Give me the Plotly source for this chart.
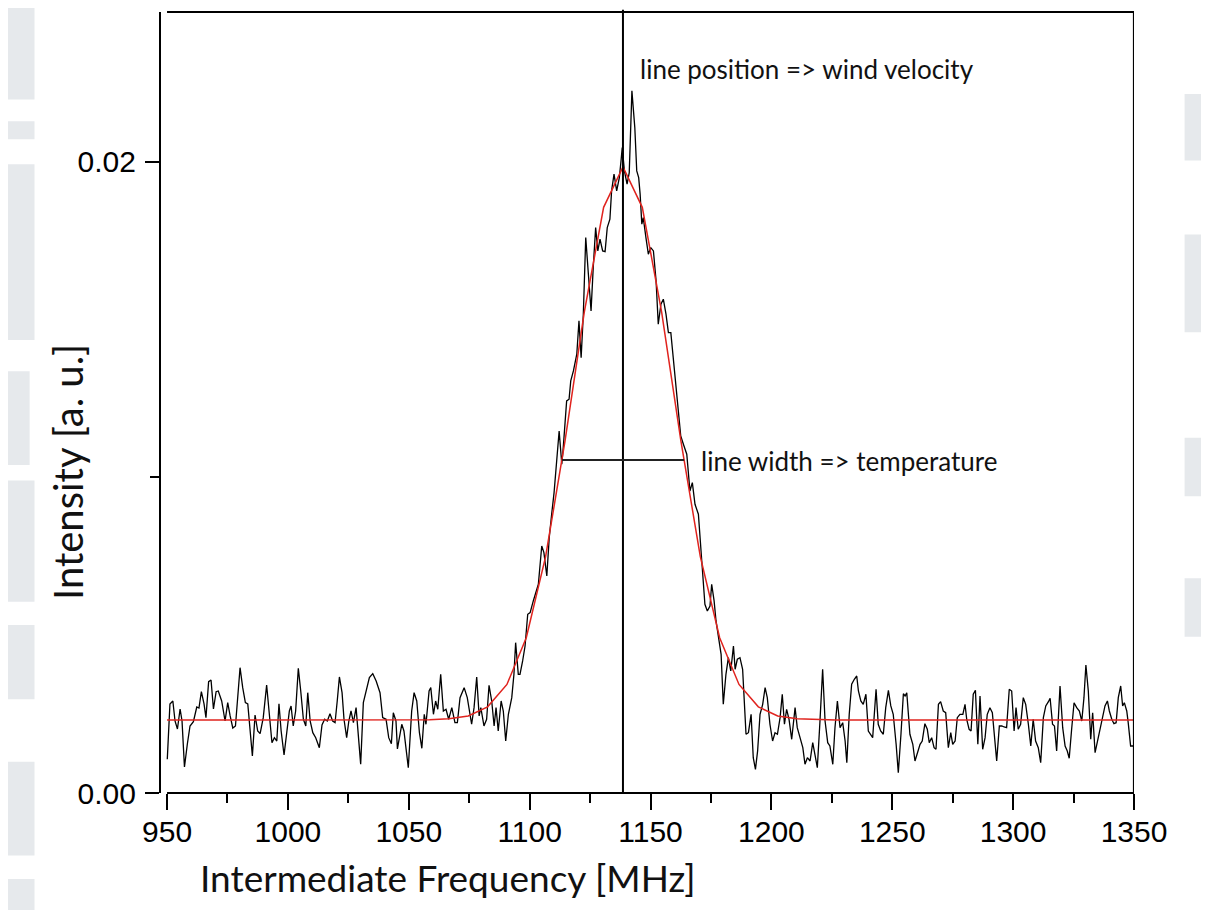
import plotly.graph_objects as go

# measured spectrum (MHz, a.u.)
freq = [
    950.1, 951.2, 952.4, 953.3, 954.3, 955.4, 956.2, 957.2, 958.4, 959.5,
    960.9, 962.3, 963.2, 964.2, 965.3, 966.1, 967.2, 968.2, 969.2, 970.3,
    971.2, 972.6, 974.0, 975.1, 976.1, 977.2, 978.3, 979.1, 980.2, 981.3,
    982.4, 983.4, 984.3, 985.3, 986.4, 987.5, 988.5, 989.8, 991.2, 992.3,
    993.4, 994.4, 995.4, 996.3, 997.2, 998.4, 999.5, 1000.6, 1001.3, 1002.2,
    1003.2, 1004.3, 1005.3, 1006.4, 1007.4, 1008.2, 1009.2, 1010.3, 1011.5, 1013.0,
    1014.1, 1015.2, 1016.3, 1017.4, 1018.5, 1019.5, 1020.4, 1021.3, 1022.4, 1023.2,
    1024.3, 1025.2, 1026.1, 1027.1, 1028.2, 1029.1, 1030.1, 1031.2, 1032.6, 1033.7,
    1035.1, 1036.5, 1038.1, 1039.2, 1040.6, 1041.7, 1042.8, 1043.6, 1044.7, 1045.3,
    1047.1, 1048.0, 1049.8, 1051.2, 1052.2, 1053.3, 1054.4, 1055.4, 1056.4, 1057.1,
    1058.4, 1059.1, 1060.2, 1061.1, 1062.0, 1063.2, 1064.3, 1065.4, 1066.5, 1067.8,
    1069.1, 1070.1, 1071.2, 1072.9, 1074.2, 1076.0, 1077.0, 1078.1, 1079.1, 1079.8,
    1081.1, 1082.2, 1083.2, 1084.3, 1085.3, 1086.1, 1087.0, 1088.2, 1089.1, 1090.1,
    1091.2, 1092.6, 1093.5, 1094.2, 1095.3, 1096.0, 1097.1, 1098.1, 1099.2, 1100.2,
    1101.5, 1103.6, 1105.0, 1105.9, 1107.1, 1108.1, 1109.1, 1110.1, 1112.2, 1113.3,
    1113.9, 1115.3, 1116.3, 1117.0, 1118.1, 1119.5, 1120.4, 1121.3, 1122.2, 1123.2,
    1124.3, 1125.4, 1126.3, 1127.3, 1128.2, 1129.1, 1130.2, 1131.2, 1132.1, 1133.2,
    1133.9, 1134.9, 1136.0, 1137.1, 1137.8, 1138.3, 1139.2, 1140.3, 1141.2, 1142.3,
    1143.5, 1144.3, 1145.1, 1145.7, 1146.4, 1147.0, 1148.1, 1149.1, 1150.1, 1151.2,
    1152.3, 1153.2, 1154.3, 1155.3, 1156.4, 1157.4, 1158.4, 1159.4, 1160.8, 1161.8,
    1162.5, 1163.6, 1165.0, 1166.3, 1167.3, 1168.4, 1169.8, 1171.2, 1171.8, 1172.5,
    1173.5, 1174.6, 1175.3, 1176.3, 1177.1, 1178.0, 1179.2, 1180.1, 1181.2, 1182.2,
    1183.2, 1184.3, 1185.0, 1185.9, 1187.0, 1188.1, 1188.8, 1189.5, 1190.5, 1191.6,
    1192.5, 1193.4, 1194.3, 1195.3, 1196.4, 1197.4, 1198.3, 1199.4, 1200.5, 1201.5,
    1202.5, 1203.6, 1204.5, 1205.4, 1206.3, 1207.3, 1208.4, 1209.1, 1209.8, 1210.7,
    1211.8, 1213.0, 1213.9, 1214.9, 1216.0, 1217.1, 1218.0, 1219.0, 1220.1, 1221.2,
    1222.2, 1223.3, 1224.2, 1225.4, 1226.3, 1227.3, 1228.4, 1229.5, 1230.5, 1231.2,
    1232.2, 1233.2, 1234.3, 1235.3, 1236.0, 1237.0, 1238.0, 1239.1, 1240.1, 1241.9,
    1243.3, 1244.2, 1245.2, 1246.3, 1247.3, 1248.4, 1249.4, 1250.4, 1251.6, 1252.5,
    1253.6, 1254.6, 1255.3, 1256.0, 1257.3, 1258.5, 1259.4, 1260.5, 1261.5, 1262.4,
    1263.5, 1264.5, 1265.3, 1266.3, 1267.3, 1268.1, 1269.1, 1270.0, 1271.1, 1272.1,
    1273.2, 1274.2, 1275.0, 1276.0, 1276.9, 1278.0, 1279.2, 1280.1, 1280.8, 1281.8,
    1282.6, 1283.5, 1284.4, 1285.4, 1286.3, 1287.4, 1288.4, 1289.3, 1290.4, 1291.4,
    1292.2, 1293.2, 1294.3, 1295.3, 1296.3, 1297.3, 1298.4, 1299.4, 1300.4, 1301.2,
    1302.1, 1303.1, 1304.2, 1305.2, 1306.3, 1307.3, 1308.3, 1309.3, 1310.4, 1311.4,
    1312.5, 1313.5, 1314.6, 1315.3, 1316.3, 1317.1, 1318.0, 1319.4, 1320.5, 1321.5,
    1322.4, 1323.2, 1324.2, 1325.2, 1326.3, 1327.4, 1328.4, 1329.3, 1330.1, 1331.1,
    1332.1, 1332.9, 1333.9, 1335.0, 1335.9, 1337.1, 1338.0, 1339.0, 1339.8, 1340.8,
    1341.7, 1342.6, 1343.5, 1344.5, 1345.3, 1346.0, 1347.0, 1347.6, 1348.6, 1349.7,
]

intensity = [
    0.001068, 0.002821, 0.002916, 0.002282, 0.002029, 0.002662, 0.002282, 0.000824, 0.001553, 0.002124,
    0.002260, 0.002726, 0.002694, 0.003211, 0.002821, 0.002387, 0.003528, 0.003582, 0.002662, 0.003211,
    0.003233, 0.002916, 0.002282, 0.002862, 0.002441, 0.002060, 0.002124, 0.002821, 0.003971, 0.003338,
    0.002862, 0.002821, 0.002070, 0.001173, 0.002472, 0.001965, 0.001880, 0.002387, 0.003423, 0.002387,
    0.001594, 0.001753, 0.001648, 0.002830, 0.001965, 0.001204, 0.001965, 0.002599, 0.002758, 0.002124,
    0.002599, 0.003952, 0.003233, 0.002336, 0.002124, 0.003179, 0.002282, 0.001911, 0.001753, 0.001436,
    0.002155, 0.002336, 0.002282, 0.002513, 0.002282, 0.002228, 0.002916, 0.003677, 0.003179, 0.002336,
    0.001753, 0.002282, 0.002599, 0.002228, 0.002704, 0.001861, 0.000910, 0.002862, 0.003338, 0.003655,
    0.003781, 0.003550, 0.003179, 0.002387, 0.002336, 0.001753, 0.001563, 0.002545, 0.002282, 0.001395,
    0.002178, 0.001965, 0.000802, 0.002599, 0.003179, 0.002916, 0.001911, 0.001417, 0.002494, 0.002178,
    0.003233, 0.003338, 0.002494, 0.002916, 0.002653, 0.003762, 0.002599, 0.002653, 0.002336, 0.002704,
    0.002228, 0.002228, 0.003021, 0.003338, 0.003021, 0.002178, 0.002704, 0.003677, 0.002441, 0.002704,
    0.002124, 0.002336, 0.003414, 0.002916, 0.002124, 0.002704, 0.001965, 0.002916, 0.002599, 0.001648,
    0.002494, 0.003021, 0.003762, 0.004764, 0.003762, 0.003762, 0.004184, 0.004659, 0.005664, 0.005715,
    0.006086, 0.006615, 0.007829, 0.007617, 0.006878, 0.008092, 0.008834, 0.009518, 0.011474, 0.010419,
    0.010945, 0.012425, 0.012479, 0.013059, 0.013376, 0.013905, 0.014961, 0.013797, 0.015173, 0.017601,
    0.016441, 0.015277, 0.016650, 0.017918, 0.017179, 0.017550, 0.017179, 0.017157, 0.017918, 0.018184,
    0.019081, 0.019610, 0.019081, 0.019503, 0.020032, 0.020454, 0.019715, 0.019293, 0.019661, 0.022251,
    0.021087, 0.019715, 0.019503, 0.018977, 0.018026, 0.018235, 0.017601, 0.017075, 0.017284, 0.017179,
    0.016228, 0.014856, 0.015490, 0.015648, 0.015173, 0.014590, 0.014590, 0.013797, 0.012742, 0.012003,
    0.011315, 0.011052, 0.010735, 0.009572, 0.009835, 0.009151, 0.008834, 0.007353, 0.006824, 0.005981,
    0.005769, 0.005927, 0.006615, 0.006086, 0.005452, 0.005030, 0.004396, 0.002811, 0.003762, 0.004289,
    0.003867, 0.004659, 0.003921, 0.004238, 0.004289, 0.003921, 0.002704, 0.001861, 0.001911, 0.002494,
    0.001119, 0.000751, 0.001331, 0.002494, 0.002811, 0.003338, 0.003021, 0.002178, 0.001648, 0.001911,
    0.001861, 0.002387, 0.003128, 0.002178, 0.002653, 0.002336, 0.001702, 0.002282, 0.002704, 0.002070,
    0.001753, 0.001436, 0.000910, 0.001119, 0.001014, 0.001594, 0.001227, 0.000802, 0.002282, 0.003921,
    0.002282, 0.001594, 0.001490, 0.000910, 0.002070, 0.002916, 0.002070, 0.002228, 0.001648, 0.000960,
    0.002494, 0.003445, 0.003604, 0.003708, 0.003233, 0.002916, 0.002811, 0.003128, 0.001965, 0.001753,
    0.003287, 0.002178, 0.001965, 0.001861, 0.002704, 0.003255, 0.002758, 0.002494, 0.001544, 0.000643,
    0.001861, 0.003147, 0.003075, 0.003179, 0.001861, 0.001544, 0.001014, 0.001331, 0.001544, 0.001648,
    0.002197, 0.002019, 0.001594, 0.001753, 0.001436, 0.001385, 0.002811, 0.002894, 0.002599, 0.002545,
    0.001436, 0.001911, 0.001544, 0.001648, 0.002387, 0.002494, 0.002494, 0.002811, 0.002336, 0.002019,
    0.001965, 0.003128, 0.003255, 0.001544, 0.003075, 0.001385, 0.001753, 0.002494, 0.002704, 0.002545,
    0.001753, 0.001014, 0.002124, 0.002124, 0.002092, 0.002070, 0.003287, 0.003233, 0.001965, 0.002704,
    0.002019, 0.002178, 0.003021, 0.002811, 0.002178, 0.001490, 0.002336, 0.001648, 0.001436, 0.000960,
    0.002387, 0.002758, 0.002894, 0.003002, 0.002178, 0.002124, 0.001331, 0.003391, 0.002070, 0.001490,
    0.001331, 0.001100, 0.002019, 0.002862, 0.002704, 0.002599, 0.002282, 0.003021, 0.004057, 0.003233,
    0.001702, 0.002545, 0.001277, 0.001648, 0.001965, 0.002387, 0.002758, 0.002916, 0.002599, 0.002336,
    0.002197, 0.002228, 0.003021, 0.003391, 0.002758, 0.002862, 0.002599, 0.002228, 0.001490, 0.001490,
]

# fitted line profile
fit_freq = [
    950.0, 1034.6, 1042.6, 1050.6, 1058.6, 1066.6, 1074.6, 1082.6, 1090.6, 1098.6,
    1106.6, 1114.6, 1122.6, 1130.6, 1138.6, 1146.6, 1154.6, 1162.6, 1170.6, 1178.6,
    1186.6, 1194.6, 1202.6, 1210.6, 1218.6, 1226.6, 1234.6, 1350.0,
]
fit_intensity = [
    0.00231, 0.00231, 0.00231, 0.00231, 0.00232, 0.00235, 0.00244, 0.00273, 0.00344, 0.00492,
    0.00749, 0.01114, 0.01524, 0.01856, 0.01984, 0.01856, 0.01524, 0.01114, 0.00749, 0.00492,
    0.00344, 0.00273, 0.00244, 0.00235, 0.00232, 0.00231, 0.00231, 0.00231,
]

x_ticks = [950, 1000, 1050, 1100, 1150, 1200, 1250, 1300, 1350]
y_ticks = [0.0, 0.02]
y_tick_text = ['0.00', '0.02']

line_center = 1138.6
half_left = 1113.4
half_right = 1163.9
half_level = 0.01055

fig = go.Figure()
fig.add_trace(go.Scatter(x=freq, y=intensity, mode='lines',
                         line=dict(color='black', width=1.3)))
fig.add_trace(go.Scatter(x=fit_freq, y=fit_intensity, mode='lines',
                         line=dict(color='#e0231e', width=1.5)))

shapes = []
# frame: bottom, top, right (x from 950), left comes from the y axis line
for x0, x1, y0, y1 in [(950, 1350, 0, 0), (950, 1350, 1, 1), (1350, 1350, 0, 1)]:
    shapes.append(dict(type='line', xref='x', yref='paper', x0=x0, x1=x1, y0=y0, y1=y1,
                       line=dict(color='black', width=2.2)))
shapes.append(dict(type='line', xref='x', yref='paper', x0=line_center, x1=line_center,
                   y0=0, y1=1.003, line=dict(color='black', width=2)))
shapes.append(dict(type='line', xref='x', yref='y', x0=half_left, x1=half_right,
                   y0=half_level, y1=half_level, line=dict(color='#222222', width=2)))

# faint page watermark at the sides
wm = '#e6e9ec'
for x0, x1, y0, y1 in [(-0.166, -0.13, 0.888, 1.016), (-0.166, -0.13, 0.837, 0.86),
                       (-0.166, -0.13, 0.58, 0.805), (-0.16, -0.135, 0.42, 0.54),
                       (-0.166, -0.13, 0.245, 0.40), (-0.166, -0.13, 0.12, 0.215),
                       (-0.166, -0.13, -0.08, 0.04), (-0.166, -0.13, -0.15, -0.11),
                       (1.052, 1.08, 0.81, 0.895), (1.052, 1.08, 0.59, 0.715),
                       (1.052, 1.08, 0.38, 0.455), (1.052, 1.08, 0.2, 0.275)]:
    shapes.append(dict(type='rect', xref='paper', yref='paper', x0=x0, x1=x1, y0=y0, y1=y1,
                       fillcolor=wm, line=dict(width=0), layer='below'))

label_font = dict(family='Lato', size=26, color='#111111')
annotations = [
    dict(x=1144.8, y=0.02295, xref='x', yref='y', text='line position => wind velocity',
         showarrow=False, xanchor='left', yanchor='middle', font=label_font),
    dict(x=1170.1, y=0.01052, xref='x', yref='y', text='line width => temperature',
         showarrow=False, xanchor='left', yanchor='middle', font=label_font),
    dict(x=0.295, y=-0.108, xref='paper', yref='paper', text='Intermediate Frequency [MHz]',
         showarrow=False, xanchor='center', yanchor='middle',
         font=dict(family='Lato', size=37, color='#111111')),
    dict(x=-0.0956, y=0.411, xref='paper', yref='paper', text='Intensity [a. u.]',
         showarrow=False, xanchor='center', yanchor='middle', textangle=-90,
         font=dict(family='Lato', size=40, color='#111111')),
]

tick_font = dict(family='Liberation Sans', size=30, color='black')

# the page body adds an 8px offset, so the figure is drawn 8px smaller
fig.update_layout(
    width=1201, height=902,
    margin=dict(l=153, r=75, t=4, b=117),
    plot_bgcolor='white', paper_bgcolor='white',
    showlegend=False,
    shapes=shapes,
    annotations=annotations,
    xaxis=dict(range=[947.5, 1350], showline=False, showgrid=False, zeroline=False,
               tickmode='array', tickvals=x_ticks, ticks='outside', ticklen=16,
               tickwidth=2, tickcolor='black', tickfont=tick_font, ticklabelstandoff=-4,
               minor=dict(tick0=975, dtick=50, ticks='outside', ticklen=9,
                          tickwidth=2, tickcolor='black')),
    yaxis=dict(range=[0, 0.02475], showline=True, linewidth=2.2, linecolor='black',
               showgrid=False, zeroline=False,
               tickmode='array', tickvals=y_ticks, ticktext=y_tick_text,
               ticks='outside', ticklen=14, tickwidth=2, tickcolor='black',
               tickfont=tick_font, ticklabelstandoff=3,
               minor=dict(tickvals=[0.01], ticks='outside', ticklen=9,
                          tickwidth=2, tickcolor='black')),
)

fig.write_html("out.html")
